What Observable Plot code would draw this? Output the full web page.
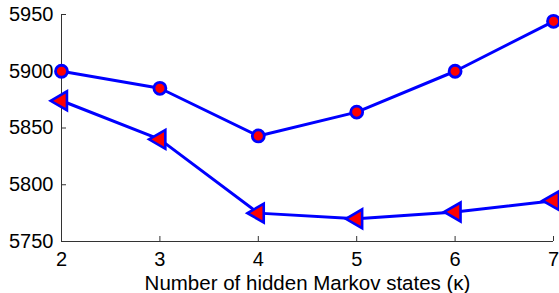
<!DOCTYPE html>
<html>
<head>
<meta charset="utf-8">
<script src="https://cdn.jsdelivr.net/npm/d3@7"></script>
<script src="https://cdn.jsdelivr.net/npm/@observablehq/plot@0.6"></script>
<style>
  html, body { margin: 0; padding: 0; background: #fff; }
  svg { display: block; }
</style>
</head>
<body>
<div id="chart"></div>
<script>
const states = [2, 3, 4, 5, 6, 7];
const circleSeries = [5900, 5885, 5843, 5864, 5900, 5944];
const triangleSeries = [5874, 5840, 5775, 5770, 5776, 5786];
const xTicks = [2, 3, 4, 5, 6, 7];
const yTicks = [5750, 5800, 5850, 5900, 5950];
const xLabel = "Number of hidden Markov states (κ)";

const circ = states.map((k, i) => ({k, v: circleSeries[i]}));
const tri = states.map((k, i) => ({k, v: triangleSeries[i]}));

const axisColor = "#333";
const blue = "#0000ff";
const red = "#ff0000";

const plot = Plot.plot({
  width: 559,
  height: 293,
  marginLeft: 61,
  marginRight: 6,
  marginTop: 14,
  marginBottom: 52,
  style: {fontFamily: "'Liberation Sans', Arial, Helvetica, sans-serif", fontSize: "20px", color: "#000", background: "#fff", overflow: "hidden"},
  x: {domain: [2, 7], label: null},
  y: {domain: [5750, 5950], label: null},
  marks: [
    Plot.axisX({ticks: xTicks, tickFormat: d => String(d), tickSize: 0, tickPadding: 10, label: null, fill: "#000", fontSize: 20}),
    Plot.axisX({ticks: xTicks, text: null, tickSize: 5, dy: -5, stroke: axisColor, label: null}),
    Plot.axisY({ticks: yTicks, tickFormat: d => String(d), tickSize: 0, tickPadding: 8, label: null, fill: "#000", fontSize: 20}),
    Plot.axisY({ticks: yTicks, text: null, tickSize: 5, dx: 5, stroke: axisColor, label: null}),
    Plot.ruleY([5750], {stroke: axisColor, strokeWidth: 1}),
    Plot.ruleX([2], {stroke: axisColor, strokeWidth: 1}),
    Plot.text([xLabel], {frameAnchor: "bottom", lineAnchor: "bottom", dy: 48, fontSize: 20.5, fill: "#000"}),
    Plot.line(circ, {x: "k", y: "v", stroke: blue, strokeWidth: 3}),
    Plot.line(tri, {x: "k", y: "v", stroke: blue, strokeWidth: 3}),
    Plot.dot(circ, {x: "k", y: "v", r: 6, fill: red, stroke: blue, strokeWidth: 2.8}),
    Plot.dot(tri, {x: "k", y: "v", symbol: "triangle", rotate: -90, r: 7, fill: red, stroke: blue, strokeWidth: 2.6})
  ]
});
document.getElementById("chart").appendChild(plot);
</script>
</body>
</html>
